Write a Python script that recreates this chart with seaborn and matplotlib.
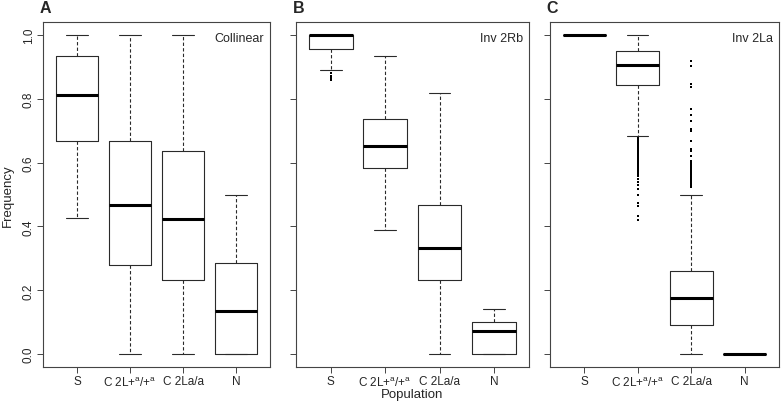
#!/usr/bin/env python3
"""
Frequency of 2Rb / 2La inversion states per population class,
three panels of R-style box plots (collinear, Inv 2Rb, Inv 2La).
"""

import matplotlib
matplotlib.use("Agg")
import matplotlib.pyplot as plt
import pandas as pd
import seaborn as sns

GROUPS = ["S", "C2L", "C2La", "N"]
TICK_LABELS = ["S", r"C 2L+$^\mathrm{a}$/+$^\mathrm{a}$", "C 2La/a", "N"]

# box summaries: lower whisker, lower hinge, median, upper hinge, upper whisker
COLLINEAR_LO = [0.428, 0.0, 0.0, 0.0]
COLLINEAR_Q1 = [0.667, 0.278, 0.231, 0.0]
COLLINEAR_MED = [0.812, 0.466, 0.422, 0.134]
COLLINEAR_Q3 = [0.933, 0.666, 0.636, 0.285]
COLLINEAR_HI = [1.0, 1.0, 1.0, 0.5]

INV2RB_LO = [0.890, 0.389, 0.0, 0.0]
INV2RB_Q1 = [0.957, 0.583, 0.231, 0.0]
INV2RB_MED = [1.0, 0.653, 0.334, 0.072]
INV2RB_Q3 = [1.0, 0.736, 0.466, 0.100]
INV2RB_HI = [1.0, 0.933, 0.818, 0.142]

INV2LA_LO = [1.0, 0.682, 0.0, 0.0]
INV2LA_Q1 = [1.0, 0.842, 0.092, 0.0]
INV2LA_MED = [1.0, 0.904, 0.175, 0.0]
INV2LA_Q3 = [1.0, 0.949, 0.261, 0.0]
INV2LA_HI = [1.0, 1.0, 0.500, 0.0]

# outlying points
INV2RB_OUT_S = [0.879, 0.871, 0.864, 0.857]
INV2LA_OUT_C2L = [0.676, 0.671, 0.667, 0.662, 0.657, 0.652, 0.647, 0.642,
                  0.637, 0.632, 0.627, 0.622, 0.617, 0.612, 0.607, 0.602,
                  0.597, 0.592, 0.587, 0.582, 0.577, 0.571, 0.565, 0.558,
                  0.549, 0.540, 0.529, 0.517, 0.498, 0.474, 0.463, 0.432,
                  0.420]
INV2LA_OUT_C2LA = [0.917, 0.901, 0.847, 0.836, 0.768, 0.750, 0.731, 0.705,
                   0.698, 0.667, 0.643, 0.636, 0.622, 0.605, 0.598, 0.592,
                   0.587, 0.582, 0.577, 0.572, 0.566, 0.561, 0.555, 0.549,
                   0.543, 0.537, 0.530, 0.523]

PANELS = [
    ("A", "Collinear", (COLLINEAR_LO, COLLINEAR_Q1, COLLINEAR_MED, COLLINEAR_Q3, COLLINEAR_HI),
     [], [0.0551, 0.1024, 0.2906, 0.8415]),
    ("B", "Inv 2Rb", (INV2RB_LO, INV2RB_Q1, INV2RB_MED, INV2RB_Q3, INV2RB_HI),
     [("S", INV2RB_OUT_S)], [0.3790, 0.1024, 0.2980, 0.8415]),
    ("C", "Inv 2La", (INV2LA_LO, INV2LA_Q1, INV2LA_MED, INV2LA_Q3, INV2LA_HI),
     [("C2L", INV2LA_OUT_C2L), ("C2La", INV2LA_OUT_C2LA)], [0.7042, 0.1024, 0.2930, 0.8415]),
]

LINE = "#2a2a2a"


def summary_frame(summary):
    rows = []
    for i, g in enumerate(GROUPS):
        for arr in summary:
            rows.append({"group": g, "value": arr[i]})
    return pd.DataFrame(rows)


def outlier_frame(outliers):
    rows = []
    for g, vals in outliers:
        for v in vals:
            rows.append({"group": g, "value": v})
    return pd.DataFrame(rows, columns=["group", "value"])


def main():
    sns.set_style("ticks")
    plt.rcParams["font.family"] = ["Liberation Sans", "DejaVu Sans"]
    plt.rcParams["mathtext.fontset"] = "custom"
    plt.rcParams["mathtext.rm"] = "Liberation Sans"
    plt.rcParams["mathtext.it"] = "Liberation Sans:italic"
    plt.rcParams["mathtext.bf"] = "Liberation Sans:bold"

    fig = plt.figure(figsize=(7.81, 4.10), dpi=100)

    for k, (letter, title, summary, outliers, rect) in enumerate(PANELS):
        ax = fig.add_axes(rect)
        df = summary_frame(summary)
        sns.boxplot(data=df, x="group", y="value", order=GROUPS, ax=ax,
                    whis=(0, 100), width=0.8, fill=False, showfliers=False,
                    color=LINE, linewidth=0.8,
                    medianprops={"color": "black", "linewidth": 2.2},
                    whiskerprops={"linestyle": (0, (3, 2)), "linewidth": 0.8},
                    capprops={"linewidth": 0.8})
        out = outlier_frame(outliers)
        if len(out):
            sns.stripplot(data=out, x="group", y="value", order=GROUPS, ax=ax,
                          jitter=False, marker="s", size=1.5, color="black",
                          linewidth=0)

        ax.set_xlim(-0.64, 3.64)
        ax.set_ylim(-0.04, 1.04)
        ax.set_yticks([0.0, 0.2, 0.4, 0.6, 0.8, 1.0])
        ax.set_xticks(range(len(GROUPS)))
        ax.set_xticklabels(TICK_LABELS)
        ax.tick_params(axis="both", length=4, width=0.7, color="#444444",
                       labelsize=8.5, pad=2)
        if k == 0:
            ax.set_yticklabels(["0.0", "0.2", "0.4", "0.6", "0.8", "1.0"],
                               rotation=90, va="center")
            ax.set_ylabel("Frequency", fontsize=9.5, labelpad=6)
        else:
            ax.set_yticklabels([])
            ax.set_ylabel("")
        ax.set_xlabel("Population" if k == 1 else "", fontsize=9.5, labelpad=-1)
        for sp in ax.spines.values():
            sp.set_visible(True)
            sp.set_linewidth(0.8)
            sp.set_color("#444444")

        ax.text(0.975, 0.955, title, transform=ax.transAxes, ha="right",
                va="center", fontsize=9)
        ax.text(-0.015, 1.029, letter, transform=ax.transAxes, ha="left",
                va="baseline", fontsize=11.5, fontweight="bold")

    fig.savefig("out.png", dpi=100)
    plt.close(fig)


if __name__ == "__main__":
    main()
